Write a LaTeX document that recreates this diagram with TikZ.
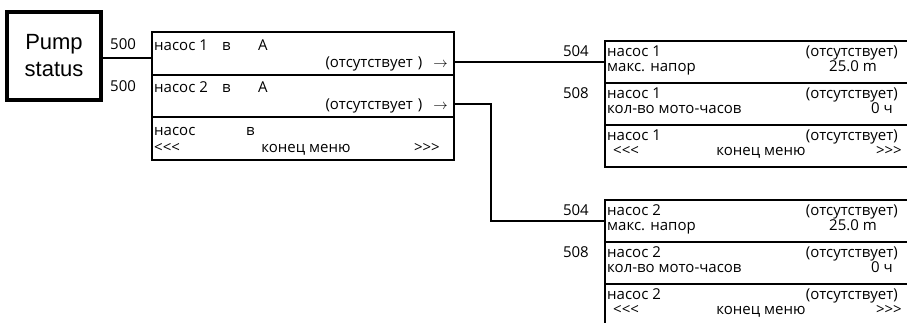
\documentclass[tikz,border=0pt]{standalone}
\usepackage{fontspec}
\setmainfont{Open Sans}
\newfontfamily\pumpfont{Liberation Sans}
\usepackage{tikz}
\tikzset{
  pumpnode/.style={rectangle,draw=black,line width=3.5pt,
    minimum width=94pt,minimum height=88pt,inner sep=0pt,align=center,
    font=\pumpfont\fontsize{22}{27}\selectfont},
  menurow/.style={rectangle,draw=black,line width=2pt,
    minimum width=302pt,minimum height=42.5pt,inner sep=0pt},
  pumprow/.style={rectangle,draw=black,line width=2pt,
    minimum width=310pt,minimum height=42pt,inner sep=0pt},
  txt/.style={inner sep=0pt,font=\fontsize{15}{17}\selectfont},
  linkedge/.style={line width=2pt,black}
}

\begin{document}
\begin{tikzpicture}[x=1pt,y=-1pt]
  \useasboundingbox (0,0) rectangle (907,322);
  \node[pumpnode] (pump) at (54,56) {Pump\\status};

  % main menu
  \node[menurow] (m1) at (303,53.25) {};
  \node[menurow] (m2) at (303,95.75) {};
  \node[menurow] (m3) at (303,138.25) {};
  \node[txt,anchor=base west] (l1) at (110,49) {500};
  \node[txt,anchor=base west] (l2) at (110,91.5) {500};
  \node[txt,anchor=base west] (m1a) at (154,50) {насос 1};
  \node[txt,anchor=base west] (m1b) at (222,50) {в};
  \node[txt,anchor=base west] (m1c) at (258,50) {А};
  \node[txt,anchor=base east] (m1d) at (448,67) {(отсутствует\hspace{5pt})\hspace{11pt}$\rightarrow$};
  \node[txt,anchor=base west] (m2a) at (154,92.5) {насос 2};
  \node[txt,anchor=base west] (m2b) at (222,92.5) {в};
  \node[txt,anchor=base west] (m2c) at (258,92.5) {А};
  \node[txt,anchor=base east] (m2d) at (448,109.5) {(отсутствует\hspace{5pt})\hspace{11pt}$\rightarrow$};
  \node[txt,anchor=base west] (m3a) at (154,135) {насос};
  \node[txt,anchor=base west] (m3b) at (246,135) {в};
  \node[txt,anchor=base west] (m3c) at (154,152) {<{}<{}<};
  \node[txt,anchor=base] (m3d) at (306,152) {конец меню};
  \node[txt,anchor=base east] (m3e) at (440,152) {>{}>{}>};
  \coordinate (out1) at (454,62);
  \coordinate (out2) at (454,104);

  % pump submenus
  \foreach \n/\y in {1/62,2/221} {
    \node[pumprow] (p\n a) at (760,\y) {};
    \node[pumprow] (p\n b) at (760,\y+42) {};
    \node[pumprow] (p\n c) at (760,\y+84) {};
    \node[txt,anchor=base east] (p\n l1) at (589,\y-6) {504};
    \node[txt,anchor=base east] (p\n l2) at (589,\y+36) {508};
    \node[txt,anchor=base west] (p\n a1) at (607,\y-6) {насос \n};
    \node[txt,anchor=base east] (p\n a2) at (898,\y-6) {(отсутствует)};
    \node[txt,anchor=base west] (p\n a3) at (607,\y+9) {макс. напор};
    \node[txt,anchor=base east] (p\n a4) at (877,\y+9) {25.0 m};
    \node[txt,anchor=base west] (p\n b1) at (607,\y+36) {насос \n};
    \node[txt,anchor=base east] (p\n b2) at (898,\y+36) {(отсутствует)};
    \node[txt,anchor=base west] (p\n b3) at (607,\y+51) {кол-во мото-часов};
    \node[txt,anchor=base east] (p\n b4) at (893,\y+51) {0 ч};
    \node[txt,anchor=base west] (p\n c1) at (607,\y+78) {насос \n};
    \node[txt,anchor=base east] (p\n c2) at (898,\y+78) {(отсутствует)};
    \node[txt,anchor=base west] (p\n c3) at (613,\y+93) {<{}<{}<};
    \node[txt,anchor=base] (p\n c4) at (761,\y+93) {конец меню};
    \node[txt,anchor=base east] (p\n c5) at (902,\y+93) {>{}>{}>};
  }

  \draw[linkedge] ([yshift=-2pt]pump.east) -- ([yshift=-2pt]pump.east -| m1.west);
  \draw[linkedge] (out1) -- (p1a.west);
  \draw[linkedge] (out2) -- ++(37,0) |- (p2a.west);
\end{tikzpicture}
\end{document}
